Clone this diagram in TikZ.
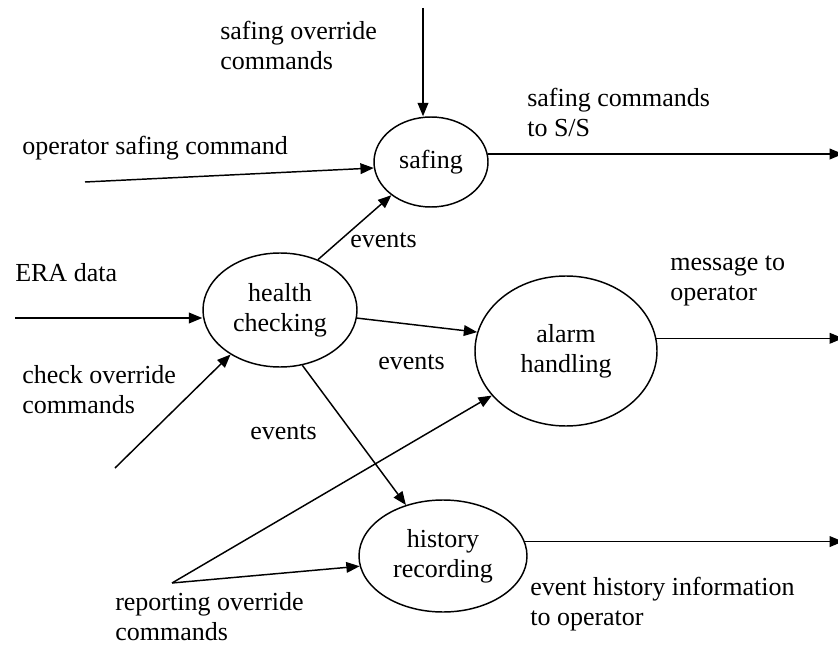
\documentclass[tikz,border=0pt]{standalone}
\usepackage{fontspec}
\setmainfont{Liberation Serif}
\usetikzlibrary{arrows.meta}
\usetikzlibrary{shapes.geometric}
\tikzset{
    txt/.style = {font=\fontsize{19.5}{22.5}\selectfont, inner sep=0pt},
    proc/.style = {txt, ellipse, draw=black, line width=1.1pt, align=center},
    lbl/.style = {txt, anchor=west, align=left},
    flow/.style = {line width=1.1pt, -{Triangle[length=10pt, width=8pt]}}
}

\begin{document}
\begin{tikzpicture}[x=0.75pt, y=-0.75pt]
    \useasboundingbox (0,0) rectangle (838,648);
    % processes
    \node [proc, minimum width=85.5pt, minimum height=67.5pt] (sf) at (431,162) {safing};
    \node [proc, minimum width=115.5pt, minimum height=85.5pt] (hc) at (280,310) {health\\checking};
    \node [proc, minimum width=136.5pt, minimum height=112.5pt] (al) at (566,351) {alarm\\handling};
    \node [proc, minimum width=126pt, minimum height=84pt] (hr) at (443,556) {history\\recording};
    % free ends
    \coordinate (sovr) at (423,8);
    \coordinate (opcmd) at (85,182);
    \coordinate (era) at (15,318);
    \coordinate (chk) at (115,468);
    \coordinate (rep) at (172,583);
    \coordinate (rend) at (843,0);
    % labels
    \node [lbl] (l_sovr) at (220,45) {safing override\\commands};
    \node [lbl] (l_op) at (22,148) {operator safing command};
    \node [lbl] (l_sfout) at (527,112) {safing commands\\to S/S};
    \node [lbl] (l_era) at (15,273) {ERA data};
    \node [lbl] (l_ev1) at (350,240) {events};
    \node [lbl] (l_msg) at (670,281) {message to\\operator};
    \node [lbl] (l_ev2) at (378,362) {events};
    \node [lbl] (l_chk) at (22,390) {check override\\commands};
    \node [lbl] (l_ev3) at (250,432) {events};
    \node [lbl] (l_rep) at (115,617) {reporting override\\commands};
    \node [lbl] (l_hist) at (530,604) {event history information\\to operator};
    % flows
    \draw [flow] (sovr) -- (sovr |- sf.north);
    \draw [flow] (opcmd) -- (sf.186);
    \draw [flow] (sf.8) -- (sf.8 -| rend);
    \draw [flow] (era) -- (era -| hc.west);
    \draw [flow] (chk) -- (hc.222);
    \draw [flow] (hc.53) -- (sf.220);
    \draw [flow] (hc.354) -- (al.168);
    \draw [flow] (hc.292) -- (hr.126);
    \draw [flow] (rep) -- (al.211);
    \draw [flow] (rep) -- (hr.187);
    \draw [flow] (al.8) -- (al.8 -| rend);
    \draw [flow] (hr.10) -- (hr.10 -| rend);
\end{tikzpicture}
\end{document}
